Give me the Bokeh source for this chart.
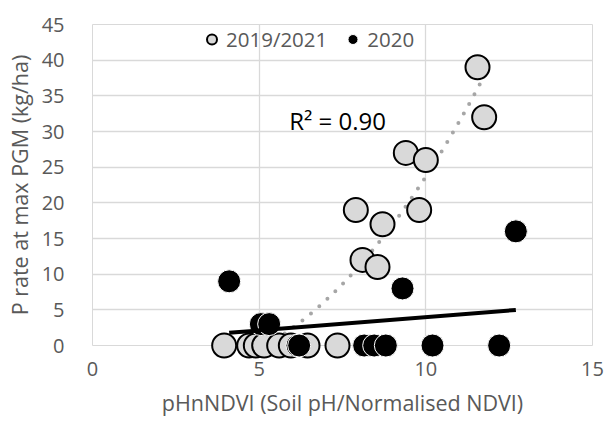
import numpy as np
from bokeh.plotting import figure
from bokeh.models import FixedTicker, Legend, LegendItem, Range1d, Label
from bokeh.embed import file_html
from bokeh.resources import INLINE

# 2019/2021 series
x_1921 = [3.95, 4.7, 4.9, 5.15, 5.6, 5.95, 6.45, 7.35,
          8.1, 8.55, 7.9, 9.8, 8.7, 9.4, 10.0, 11.55, 11.75]
y_1921 = [0, 0, 0, 0, 0, 0, 0, 0,
          12, 11, 19, 19, 17, 27, 26, 39, 32]
# 2020 series
x_2020 = [4.1, 5.05, 5.3, 6.15, 6.2, 8.15, 8.45, 8.8, 9.3, 10.2, 12.2, 12.7]
y_2020 = [9, 3, 3, 0, 0, 0, 0, 0, 8, 0, 0, 16]

x_ticks = [0, 5, 10, 15]
y_ticks = [0, 5, 10, 15, 20, 25, 30, 35, 40, 45]
r2_text = "R² = 0.90"

FONT = "Open Sans"
GREY_TXT = "#595959"

p = figure(width=608, height=427, output_backend="svg", toolbar_location=None,
           x_range=Range1d(0, 15), y_range=Range1d(0, 45),
           min_border_left=92, min_border_right=16, min_border_top=24, min_border_bottom=82)
p.background_fill_color = "white"
p.border_fill_color = "white"
p.outline_line_color = "#d9d9d9"
p.outline_line_width = 1

for ax in (p.xaxis[0], p.yaxis[0]):
    ax.axis_line_color = None
    ax.major_tick_line_color = None
    ax.minor_tick_line_color = None
    ax.major_label_text_font = FONT
    ax.major_label_text_font_size = "20px"
    ax.major_label_text_color = GREY_TXT
    ax.axis_label_text_font = FONT
    ax.axis_label_text_font_size = "21.5px"
    ax.axis_label_text_color = GREY_TXT
    ax.axis_label_text_font_style = "normal"

p.xaxis.ticker = FixedTicker(ticks=x_ticks)
p.yaxis.ticker = FixedTicker(ticks=y_ticks)
p.xaxis.axis_label = "pHnNDVI (Soil pH/Normalised NDVI)"
p.yaxis.axis_label = "P rate at max PGM (kg/ha)"
p.xaxis.major_label_standoff = 10
p.xaxis.axis_label_standoff = 9
p.yaxis.major_label_standoff = 22
p.yaxis.axis_label_standoff = 5

p.xgrid.ticker = FixedTicker(ticks=x_ticks)
p.ygrid.ticker = FixedTicker(ticks=y_ticks)
p.xgrid.grid_line_color = "#d9d9d9"
p.ygrid.grid_line_color = "#d9d9d9"
p.xgrid.grid_line_width = 1.3
p.ygrid.grid_line_width = 1.3

# quadratic trendline for 2019/2021 (clipped at y >= 0)
xa = np.array(x_1921); ya = np.array(y_1921)
c = np.polyfit(xa, ya, 2)
xs = np.linspace(xa.min(), xa.max(), 200)
ys = np.polyval(c, xs)
m = ys >= 0
p.line(xs[m], ys[m], line_color="#a6a6a6", line_width=4, line_dash="0 11",
       line_cap="round", level="overlay")

# linear trendline for 2020
xb = np.array(x_2020); yb = np.array(y_2020)
lc = np.polyfit(xb, yb, 1)
xl = np.array([xb.min(), xb.max()])

r1 = p.scatter(x_1921, y_1921, size=24, fill_color="#d9d9d9", line_color="black",
               line_width=2, level="overlay")
r2 = p.scatter(x_2020, y_2020, size=23, fill_color="black", line_color="white",
               line_width=1, level="overlay")
p.line(xl, np.polyval(lc, xl), line_color="black", line_width=4, level="overlay")

p.add_layout(Label(x=5.9, y=31.5, text=r2_text, text_font=FONT, text_font_size="24px",
                   text_color="black", text_baseline="middle", level="overlay"))

legend = Legend(items=[LegendItem(label="2019/2021", renderers=[r1]),
                       LegendItem(label="2020", renderers=[r2])],
                orientation="horizontal", location=(107, 292),
                glyph_width=25, glyph_height=28, label_height=28, label_standoff=2,
                spacing=13, padding=0, margin=0,
                label_text_font=FONT, label_text_font_size="20.5px",
                label_text_color=GREY_TXT,
                background_fill_alpha=0, border_line_alpha=0)
p.add_layout(legend)

open("out.html", "w").write(file_html(p, INLINE))
